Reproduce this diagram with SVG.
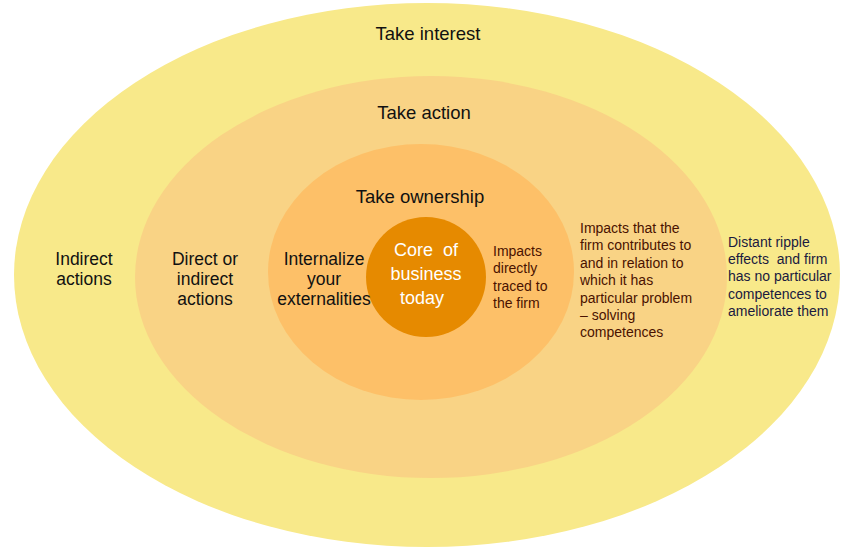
<svg xmlns="http://www.w3.org/2000/svg" width="845" height="549" viewBox="0 0 845 549">
<style>
text{font-family:"Liberation Sans",Arial,sans-serif;fill:#111;white-space:pre;}
.t{font-size:18.5px;text-anchor:middle;}
.m{font-size:17.5px;text-anchor:middle;}
.c{font-size:18px;text-anchor:middle;fill:#fff;}
.s{font-size:14px;fill:#4a1200;}
.d{font-size:14px;fill:#1a1a40;}
</style>
<rect width="845" height="549" fill="#fff"/>
<g id="interest">
<ellipse cx="427" cy="275" rx="413" ry="272" fill="#F8E98A"/>
<text class="t" x="428" y="40">Take interest</text>
</g>
<g id="action">
<ellipse cx="431" cy="277" rx="296" ry="201" fill="#F9D385"/>
<text class="t" x="424" y="119">Take action</text>
</g>
<g id="ownership">
<ellipse cx="421" cy="272" rx="153" ry="128" fill="#FDC068"/>
<text class="t" x="420" y="203">Take ownership</text>
</g>
<g id="core">
<circle cx="426" cy="277" r="60" fill="#E68A00"/>
<text class="c" x="426" y="256" xml:space="preserve">Core  of</text>
<text class="c" x="426" y="280">business</text>
<text class="c" x="422" y="304">today</text>
</g>
<g id="labels-left">
<text class="m" x="84" y="265">Indirect</text>
<text class="m" x="84" y="285">actions</text>
<text class="m" x="205" y="265">Direct or</text>
<text class="m" x="205" y="285">indirect</text>
<text class="m" x="205" y="305">actions</text>
<text class="m" x="324" y="265">Internalize</text>
<text class="m" x="324" y="285">your</text>
<text class="m" x="324" y="305">externalities</text>
</g>
<g id="labels-right">
<text class="s" x="493" y="256">Impacts</text>
<text class="s" x="493" y="273">directly</text>
<text class="s" x="493" y="291">traced to</text>
<text class="s" x="493" y="308">the firm</text>
<text class="s" x="580" y="233">Impacts that the</text>
<text class="s" x="580" y="250">firm contributes to</text>
<text class="s" x="580" y="268">and in relation to</text>
<text class="s" x="580" y="285">which it has</text>
<text class="s" x="580" y="303">particular problem</text>
<text class="s" x="580" y="320">– solving</text>
<text class="s" x="580" y="337">competences</text>
<text class="d" x="728" y="247">Distant ripple</text>
<text class="d" x="728" y="264" xml:space="preserve">effects  and firm</text>
<text class="d" x="728" y="281">has no particular</text>
<text class="d" x="728" y="299">competences to</text>
<text class="d" x="728" y="316">ameliorate them</text>
</g>
</svg>
